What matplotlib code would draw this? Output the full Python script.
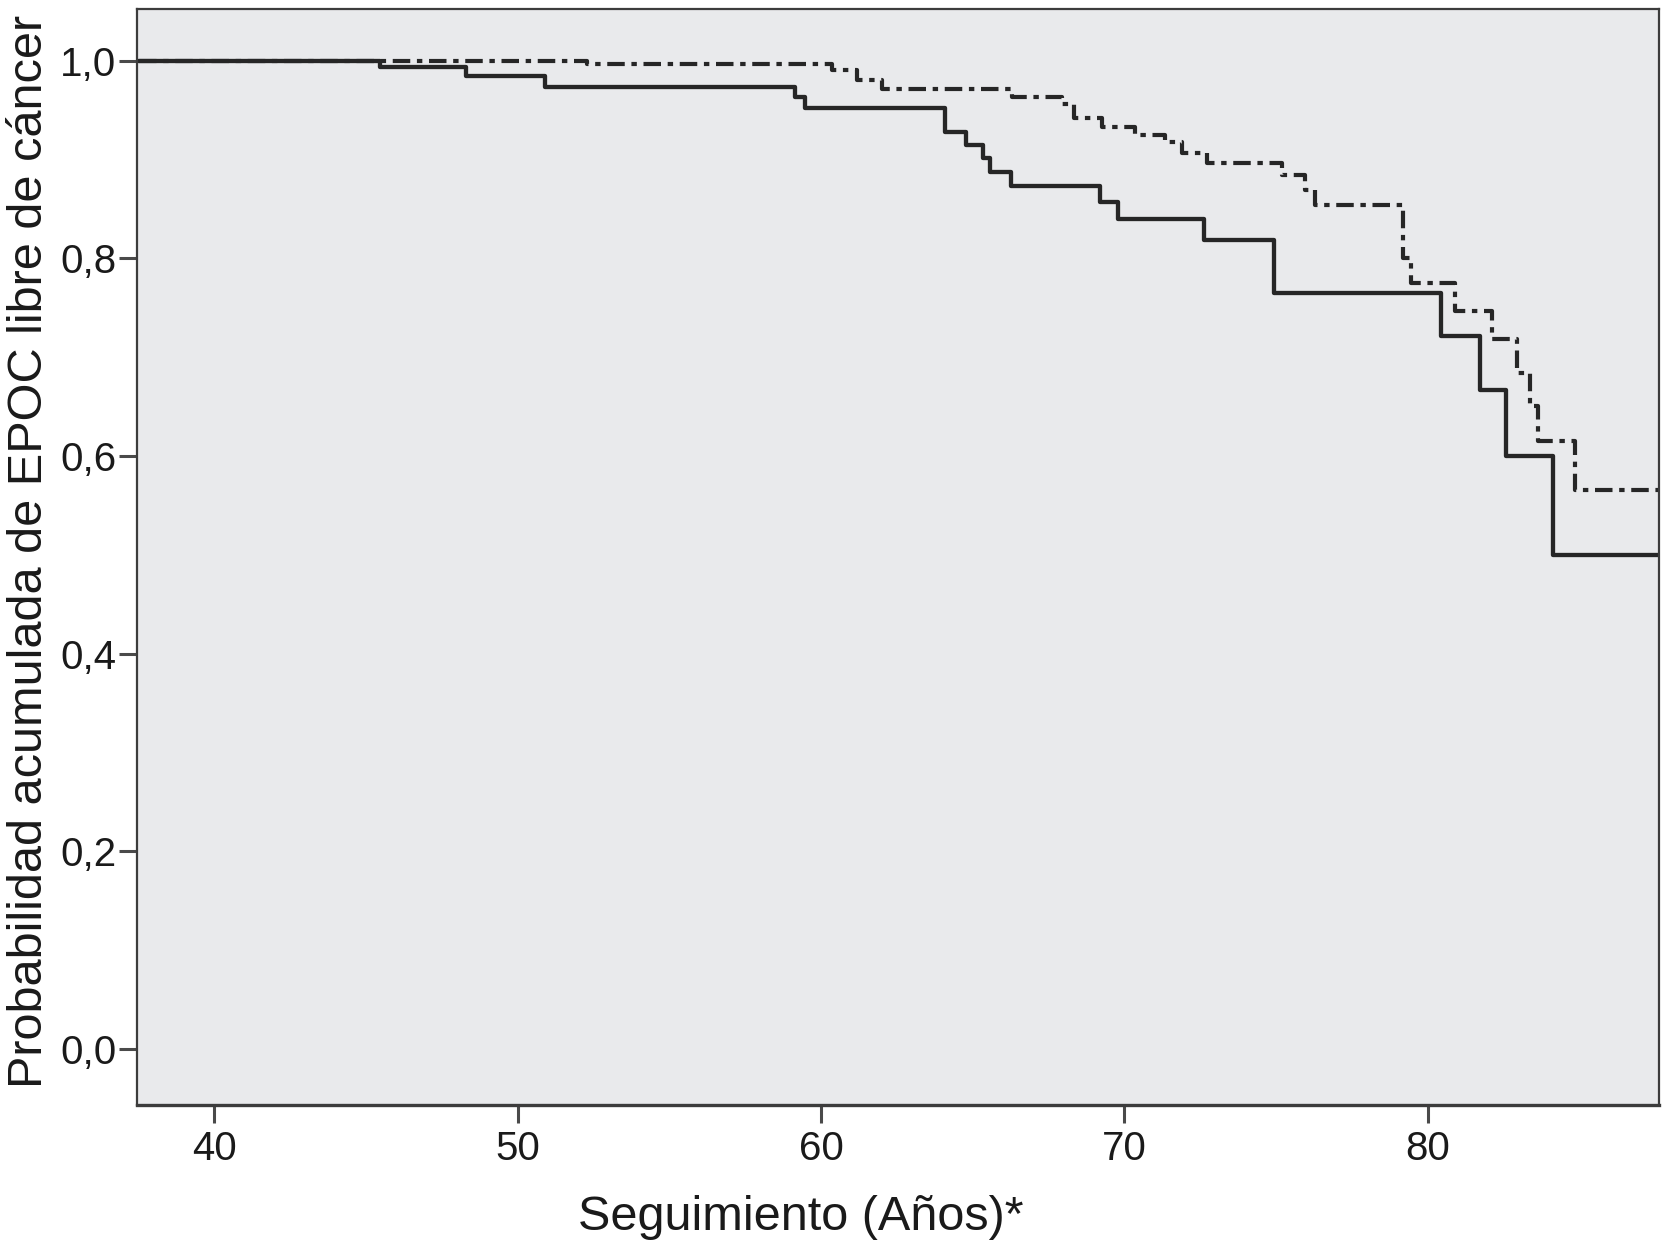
#!/usr/bin/env python3
import matplotlib
matplotlib.use("Agg")
import matplotlib.pyplot as plt
from matplotlib.ticker import FuncFormatter

# ============================================================
# DATA
# ============================================================
# solid curve
solid_t = [37.5, 45.47, 48.3, 50.9, 59.14, 59.48, 64.08, 64.79, 65.35, 65.58,
           66.26, 69.2, 69.8, 72.63, 74.94, 80.45, 81.72, 82.6, 84.13, 87.63]
solid_s = [1.0, 0.993, 0.984, 0.9735, 0.963, 0.952, 0.928, 0.9145, 0.901, 0.8875,
           0.873, 0.857, 0.840, 0.818, 0.765, 0.721, 0.667, 0.600, 0.500, 0.500]

# dash-dot curve
dashed_t = [37.5, 52.3, 60.37, 61.2, 62.0, 66.3, 67.95, 68.33, 69.26, 70.36,
            71.35, 71.9, 72.72, 75.2, 75.95, 76.3, 79.2, 79.45, 80.91, 82.12,
            82.94, 83.38, 83.65, 84.87, 87.63]
dashed_s = [1.0, 0.996, 0.990, 0.980, 0.971, 0.963, 0.956, 0.9415, 0.933, 0.9246,
            0.918, 0.906, 0.8966, 0.884, 0.869, 0.854, 0.80, 0.775, 0.747, 0.718,
            0.684, 0.650, 0.615, 0.565, 0.565]

x_ticks = [40, 50, 60, 70, 80]
y_ticks = [0.0, 0.2, 0.4, 0.6, 0.8, 1.0]

X_LABEL = "Seguimiento (Años)*"
Y_LABEL = "Probabilidad acumulada de EPOC libre de cáncer"

# ============================================================
# STYLE
# ============================================================
FIG_W, FIG_H, DPI = 16.63, 12.54, 100
BG_AXES = "#e9eaec"
LINE_COL = "#262626"
SPINE_COL = "#3c3c3c"
FS_TICKS = 29
FS_LABEL = 35

plt.rcParams["font.family"] = ["Liberation Sans", "DejaVu Sans"]

fig = plt.figure(figsize=(FIG_W, FIG_H), dpi=DPI)
ax = fig.add_axes([0.0824, 0.1188, 0.9976 - 0.0824, 0.9932 - 0.1188])
ax.set_facecolor(BG_AXES)

ax.step(dashed_t, dashed_s, where="post", color=LINE_COL, linewidth=3.0,
        linestyle=(0, (4.2, 1.6, 1.3, 1.6)))
ax.step(solid_t, solid_s, where="post", color=LINE_COL, linewidth=3.1)

ax.set_xlim(37.45, 87.63)
ax.set_ylim(-0.0567, 1.0526)
ax.set_xticks(x_ticks)
ax.set_yticks(y_ticks)
ax.yaxis.set_major_formatter(FuncFormatter(lambda v, p: f"{v:.1f}".replace(".", ",")))

ax.tick_params(axis="both", direction="out", length=13, width=2.2,
               color="#4a4a4a", labelsize=FS_TICKS, labelcolor="#1a1a1a")
ax.tick_params(axis="y", pad=2)
ax.tick_params(axis="x", pad=5)
ax.tick_params(top=False, right=False)

for side, sp in ax.spines.items():
    sp.set_color(SPINE_COL)
    sp.set_linewidth(1.6)
ax.spines["bottom"].set_linewidth(2.4)

fig.text(0.4816, 0.0295, X_LABEL, ha="center", va="center",
         fontsize=FS_LABEL, color="#1a1a1a")
fig.text(0.018, 0.560, Y_LABEL, ha="center", va="center", rotation=90,
         fontsize=FS_LABEL, color="#1a1a1a")

fig.savefig("out.png", dpi=DPI)
plt.close(fig)
